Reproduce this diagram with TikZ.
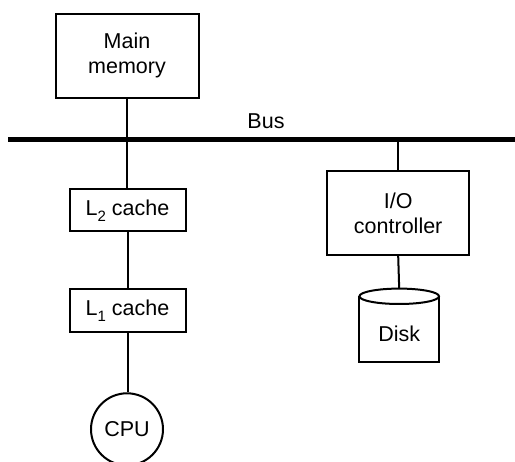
\documentclass[tikz,border=0pt]{standalone}
\usepackage{fontspec}
\setmainfont{Liberation Sans}
\newcommand\diagfont{\fontsize{21.5}{25}\selectfont}
\newcommand\subdigit[1]{\raisebox{-6pt}{\fontsize{15}{15}\selectfont #1}}
\begin{document}
\begin{tikzpicture}[x=1pt,y=-1pt,
  line width=2pt,
  box/.style={draw, line width=2pt, inner sep=0pt, align=center, font=\diagfont},
  wire/.style={line width=2pt},
  busline/.style={line width=4.5pt},
  lbl/.style={inner sep=0pt, font=\diagfont}]
\useasboundingbox (0,0) rectangle (515,462);
\clip (0,0) rectangle (515,462);
% left column
\node[box, minimum width=143pt, minimum height=84pt] (mem) at (127,55.7) {Main\\memory};
\node[box, minimum width=116pt, minimum height=42pt] (l2) at (127.5,210.3) {L\subdigit{2} cache};
\node[box, minimum width=116pt, minimum height=43pt] (l1) at (127.5,310.3) {L\subdigit{1} cache};
\node[box, circle, minimum size=72pt] (cpu) at (127,429.3) {CPU};
% bus
\coordinate (busL) at (8.3,139.3);
\coordinate (busR) at (515,139.3);
\draw[busline] (busL) -- (busR);
\node[lbl, anchor=base] (buslabel) at (266,129) {Bus};
% right column
\node[box, minimum width=142pt, minimum height=84pt] (io) at (398.2,213) {I/O\\controller};
% disk
\node[lbl, anchor=base] (disk) at (399.2,341.7) {Disk};
\coordinate (disktop) at (399.2,288.7);
\draw[wire] (359.4,296.3) -- (359.4,362.3) -- (439,362.3) -- (439,296.3);
\draw[wire] (399.2,296.3) ellipse [x radius=39.8, y radius=7.7];
% connectors
\draw[wire] (mem.south) -- (mem.south |- l2.north);
\draw[wire] (l2.south) -- (l2.south |- l1.north);
\draw[wire] (l1.south) -- (l1.south |- cpu.north);
\draw[wire] (io.north) -- (io.north |- busR);
\draw[wire] (io.south) -- (disktop);
\end{tikzpicture}
\end{document}
